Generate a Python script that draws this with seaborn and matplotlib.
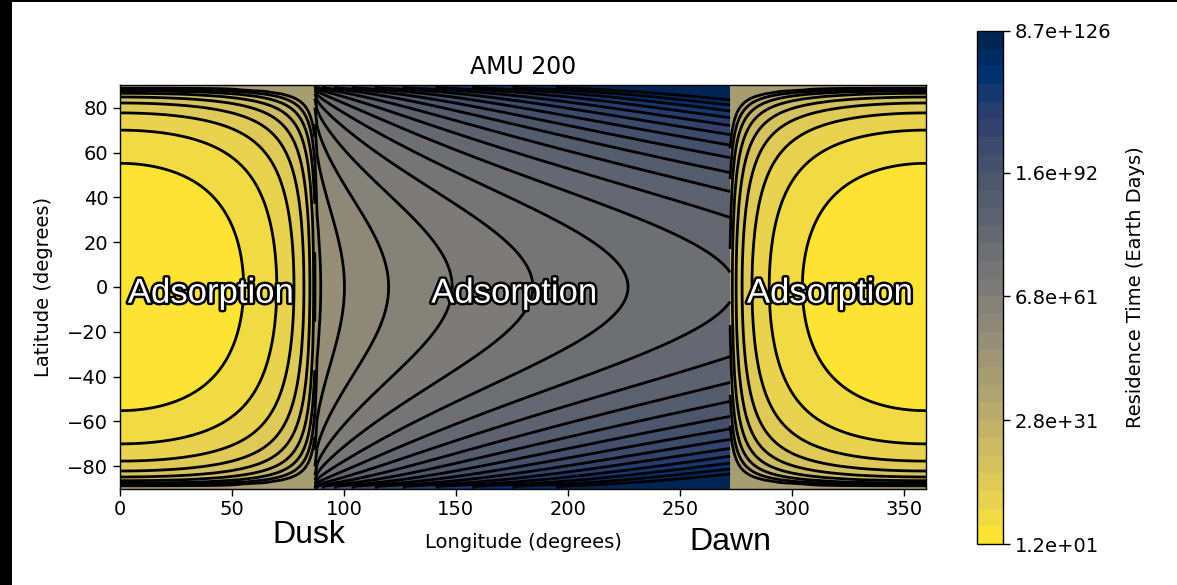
import numpy as np
import matplotlib
matplotlib.use("Agg")
import matplotlib.pyplot as plt
import matplotlib.patheffects as pe
from matplotlib.colors import Normalize
from matplotlib.patches import Rectangle
from matplotlib.ticker import FuncFormatter
import seaborn as sns

# ---------------------------------------------------------------------------
# Surface temperature model (K)
# ---------------------------------------------------------------------------
T_SUBSOLAR = 700.0        # dayside peak
T_DAY_EDGE = 100.0        # dayside temperature as the sun reaches the horizon
T_DUSK_EQ = 310.0         # nightside temperature at the dusk terminator, equator
P_DUSK = 0.09             # latitude exponent at dusk
T_DAWN_EQ = 222.5         # pre-dawn temperature, equator
T_DAWN_FLOOR = 135.0      # pre-dawn polar floor
Q_DAWN = 0.7              # latitude exponent at dawn
COOLING_EXP = 0.38        # shape of the night-time cooling curve
MU_MIN = 0.01745          # cos(89 deg): polar cap limit

DUSK_LON = 87.0
DAWN_LON = 272.5

# log10(residence time / days) = LOG10_TAU0 + ACT_TEMP / T
ACT_TEMP = 24000.0
LOG10_TAU0 = -33.2

# Colour scale
N_LEVELS = 30
CBAR_MIN = 1.2e1
CBAR_MAX = 8.7e126
CBAR_TICKS = [1.2e1, 2.8e31, 6.8e61, 1.6e92, 8.7e126]

# Annotations
TITLE = "AMU 200"
REGION_LABELS = ["Adsorption", "Adsorption", "Adsorption"]
REGION_LABEL_LON = [3.5, 139.0, 280.0]
REGION_LABEL_LAT = -7.0
TERMINATOR_LABELS = ["Dusk", "Dawn"]
TERMINATOR_LABEL_LON = [84.4, 272.8]
TERMINATOR_LABEL_LAT = [-114.3, -117.4]

LON_TICKS = [0, 50, 100, 150, 200, 250, 300, 350]
LAT_TICKS = [-80, -60, -40, -20, 0, 20, 40, 60, 80]

# ---------------------------------------------------------------------------
sns.set_theme(style="ticks")
plt.rcParams.update({
    "font.family": ["DejaVu Sans"],
    "text.color": "black",
    "axes.labelcolor": "black",
    "axes.edgecolor": "black",
    "axes.linewidth": 1.0,
    "xtick.color": "black",
    "ytick.color": "black",
    "xtick.major.size": 5,
    "ytick.major.size": 5,
    "xtick.major.width": 1.0,
    "ytick.major.width": 1.0,
})

levels = np.linspace(np.log10(CBAR_MIN), np.log10(CBAR_MAX), N_LEVELS)
norm = Normalize(levels[0], levels[-1])
cmap = sns.color_palette("cividis_r", as_cmap=True)

lat = np.linspace(-90, 90, 181)


def log_tau(temp):
    return LOG10_TAU0 + ACT_TEMP / temp


def dayside(lon):
    LON, LAT = np.meshgrid(lon, lat)
    mu = np.cos(np.radians(LAT)) * np.cos(np.radians(LON))
    mu = np.maximum(mu, MU_MIN)
    temp = T_DAY_EDGE + (T_SUBSOLAR - T_DAY_EDGE) * mu ** 0.25
    return LON, LAT, np.clip(log_tau(temp), levels[0], levels[-1])


def nightside(lon):
    LON, LAT = np.meshgrid(lon, lat)
    c = np.maximum(np.cos(np.radians(LAT)), MU_MIN)
    t_dusk = T_DUSK_EQ * c ** P_DUSK
    t_dawn = T_DAWN_FLOOR + (T_DAWN_EQ - T_DAWN_FLOOR) * c ** Q_DAWN
    w = (LON - DUSK_LON) / (DAWN_LON - DUSK_LON)
    temp = t_dawn + (t_dusk - t_dawn) * (1.0 - w ** COOLING_EXP)
    return LON, LAT, np.clip(log_tau(temp), levels[0], levels[-1])


segments = [
    dayside(np.linspace(0.0, DUSK_LON, 88)),
    nightside(np.linspace(DUSK_LON, DAWN_LON, 186)),
    dayside(np.linspace(DAWN_LON, 360.0, 88)),
]

W, H = 1177, 585
fig = plt.figure(figsize=(W / 100, H / 100), dpi=100)
ax = fig.add_axes([120 / W, (H - 488.6) / H, 806 / W, 403.2 / H])
cax = fig.add_axes([977 / W, (H - 544) / H, 26 / W, 513 / H])

cf = None
for LON, LAT, Z in segments:
    cf = ax.contourf(LON, LAT, Z, levels=levels, cmap=cmap, norm=norm)
    ax.contour(LON, LAT, Z, levels=levels, colors="black", linewidths=2.0)

ax.set_xlim(0, 360)
ax.set_ylim(-90, 90)
ax.set_xticks(LON_TICKS)
ax.set_yticks(LAT_TICKS)
ax.tick_params(labelsize=14, direction="out")
ax.set_xlabel("Longitude (degrees)", fontsize=14, labelpad=9.5)
ax.set_ylabel("Latitude (degrees)", fontsize=14, labelpad=10)
ax.set_title(TITLE, fontsize=17, pad=8)

outline = [pe.withStroke(linewidth=3.5, foreground="black")]
for text, x in zip(REGION_LABELS, REGION_LABEL_LON):
    ax.text(x, REGION_LABEL_LAT, text, ha="left", va="baseline",
            fontsize=25, family="Liberation Sans", color="white",
            path_effects=outline, zorder=5)

for text, x, y in zip(TERMINATOR_LABELS, TERMINATOR_LABEL_LON, TERMINATOR_LABEL_LAT):
    ax.text(x, y, text, ha="center", va="baseline", fontsize=23,
            family="Liberation Sans", color="black", clip_on=False)

cb = fig.colorbar(cf, cax=cax)
cb.set_ticks(np.log10(CBAR_TICKS))
cb.ax.yaxis.set_major_formatter(FuncFormatter(lambda v, _: f"{10.0 ** v:.1e}"))
cb.ax.tick_params(labelsize=14, length=5, width=1.0)
cb.outline.set_linewidth(1.0)
cb.outline.set_edgecolor("black")
cb.set_label("Residence Time (Earth Days)", fontsize=14, labelpad=10.5)

# framing strips along the left and top edges
fig.add_artist(Rectangle((0, 0), 12 / W, 1, transform=fig.transFigure,
                         facecolor="black", edgecolor="none", zorder=10))
fig.add_artist(Rectangle((0, 1 - 1.5 / H), 1, 1.5 / H, transform=fig.transFigure,
                         facecolor="black", edgecolor="none", zorder=10))

fig.savefig("out.png", dpi=100)
